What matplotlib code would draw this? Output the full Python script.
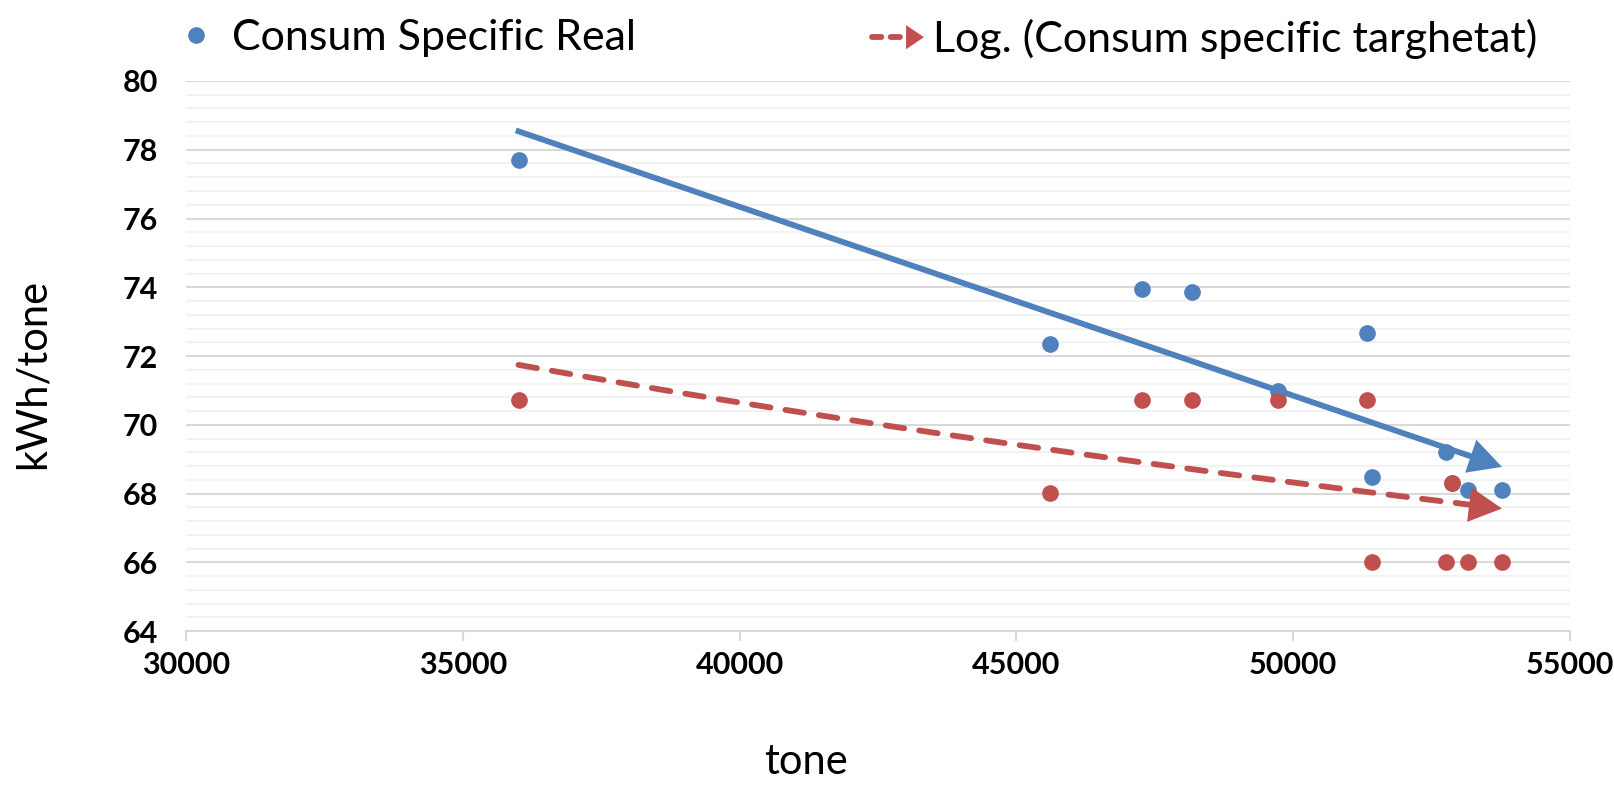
import numpy as np
import matplotlib
matplotlib.use("Agg")
import matplotlib.pyplot as plt
from matplotlib.lines import Line2D
from matplotlib.patches import Polygon
from matplotlib.legend_handler import HandlerBase
from matplotlib.ticker import MultipleLocator

plt.rcParams['font.family'] = ['Lato', 'DejaVu Sans']

# production (tone) and specific consumption (kWh/tone)
tone_real = [36008, 45606, 47262, 48170, 49720, 51336, 51423, 52760, 52868, 53158, 53772]
consum_real = [77.69, 72.36, 73.95, 73.86, 70.98, 72.66, 68.48, 69.21, 68.30, 68.10, 68.10]

tone_target = [36008, 45606, 47262, 48170, 49720, 51336, 51423, 52760, 52868, 53158, 53772]
consum_target = [70.71, 68.01, 70.71, 70.71, 70.71, 70.71, 66.0, 66.0, 68.30, 66.0, 66.0]

x_ticks = [30000, 35000, 40000, 45000, 50000, 55000]
y_ticks = [64, 66, 68, 70, 72, 74, 76, 78, 80]

BLUE = '#4f81bd'
RED = '#c0504d'
DASH = (0, (3.2, 2.6))


def trend(x, y, log=False):
    x = np.asarray(x, float)
    f = np.log if log else (lambda v: v)
    a, b = np.polyfit(f(x), np.asarray(y, float), 1)
    xs = np.linspace(x.min(), x.max(), 200)
    return xs, a * f(xs) + b


class ArrowHandler(HandlerBase):
    def create_artists(self, legend, orig_handle, xdescent, ydescent,
                       width, height, fontsize, trans):
        y = height / 2 - ydescent
        head = 0.32 * width
        line = Line2D([-xdescent + 3, width - head], [y, y], color=RED, lw=4.2,
                      linestyle=(0, (1.6, 1.6)), dash_capstyle='round',
                      transform=trans)
        tri = Polygon([[width - head, y - 0.40 * height],
                       [width - head, y + 0.40 * height],
                       [width, y]], closed=True, color=RED, lw=0,
                      transform=trans)
        return [line, tri]


fig = plt.figure(figsize=(16.14, 7.86), dpi=100)
ax = fig.add_axes([0.1152, 0.197, 0.8575, 0.700])

ax.plot(tone_real, consum_real, 'o', color=BLUE, ms=11, zorder=3)
ax.plot(tone_target, consum_target, 'o', color=RED, ms=11, zorder=4)

# trendlines with arrow heads at the end
for x, y, color, ls, log in [(tone_real, consum_real, BLUE, '-', False),
                             (tone_target, consum_target, RED, DASH, True)]:
    xs, ys = trend(x, y, log)
    ax.plot(xs[:-6], ys[:-6], color=color, lw=4.2, linestyle=ls,
            dash_capstyle='round', zorder=5)
    ax.annotate('', xy=(xs[-1], ys[-1]), xytext=(xs[-8], ys[-8]),
                arrowprops=dict(arrowstyle='-|>,head_length=0.95,head_width=0.5',
                                color=color, lw=0, mutation_scale=25,
                                shrinkA=0, shrinkB=0),
                zorder=6)

ax.set_xlim(30000, 55000)
ax.set_ylim(64, 80)
ax.set_xticks(x_ticks)
ax.set_yticks(y_ticks)
ax.yaxis.set_minor_locator(MultipleLocator(0.4))
ax.grid(axis='y', which='major', color='#d9d9d9', lw=1.5, zorder=0)
ax.grid(axis='y', which='minor', color='#f2f2f2', lw=1.5, zorder=0)
ax.set_axisbelow(True)

for side in ['left', 'right', 'top']:
    ax.spines[side].set_visible(False)
ax.spines['bottom'].set_color('#d9d9d9')
ax.spines['bottom'].set_linewidth(1.5)

ax.tick_params(axis='x', length=7, width=1.5, color='#d9d9d9', pad=7,
               labelsize=22)
ax.tick_params(axis='y', which='both', length=0, pad=20, labelsize=22)
for lbl in ax.get_xticklabels() + ax.get_yticklabels():
    lbl.set_fontweight('bold')

ax.set_xlabel('tone', fontsize=30, va='center')
ax.xaxis.set_label_coords(0.448, -0.238)
ax.set_ylabel('kWh/tone', fontsize=30, va='center')
ax.yaxis.set_label_coords(-0.111, 0.467)

# two legend entries laid out across the top
fig.legend([Line2D([], [], marker='o', color=BLUE, ls='none', ms=11)],
           ['Consum Specific Real'],
           loc='upper left', bbox_to_anchor=(0.080, 1.025),
           frameon=False, fontsize=31,
           handlelength=1.3, handletextpad=0.2)
fig.legend(['arrow'], ['Log. (Consum specific targhetat)'],
           handler_map={str: ArrowHandler()},
           loc='upper center', bbox_to_anchor=(0.745, 1.025),
           frameon=False, fontsize=31,
           handlelength=1.3, handletextpad=0.2)

fig.savefig('out.png', dpi=100)
